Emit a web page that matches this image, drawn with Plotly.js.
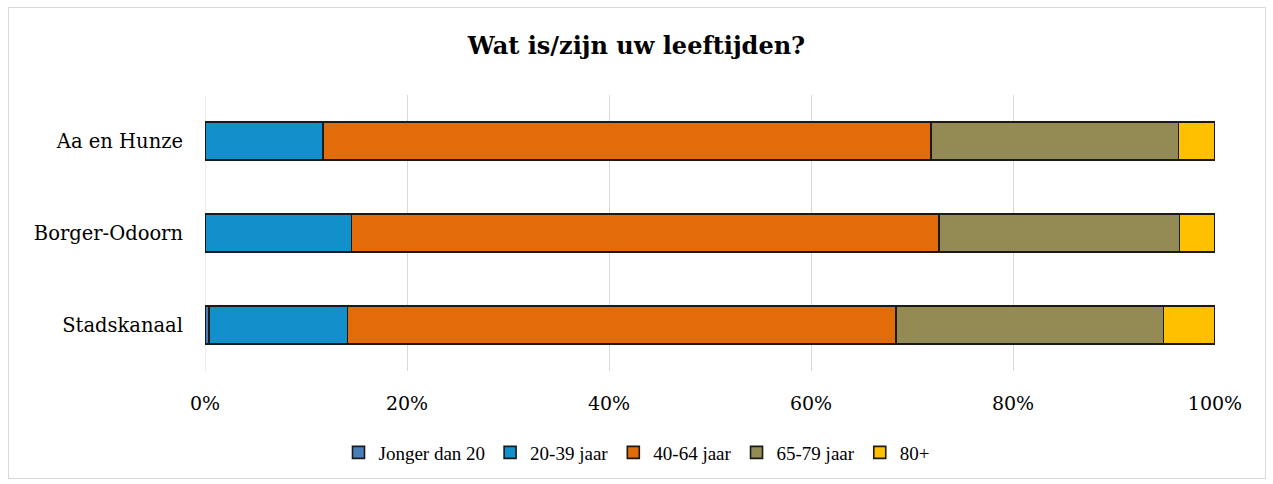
<!DOCTYPE html>
<html>
<head>
<meta charset="utf-8">
<script src="https://cdn.plot.ly/plotly-3.0.1.min.js"></script>
<style>
html,body{margin:0;padding:0;background:#fff;}
#wrap{position:relative;width:1273px;height:484px;}
#chart{width:1273px;height:484px;}
#frame{position:absolute;left:8px;top:7px;width:1256px;height:470px;border:1px solid #d9d9d9;pointer-events:none;}
</style>
</head>
<body>
<div id="wrap"><div id="chart"></div><div id="frame"></div></div>
<script>
const categories = ["Aa en Hunze", "Borger-Odoorn", "Stadskanaal"];
const seriesNames = ["Jonger dan 20", "20-39 jaar", "40-64 jaar", "65-79 jaar", "80+"];
const jongerDan20 = [0.0, 0.0, 0.4];
const jaar20_39 = [11.7, 14.5, 13.7];
const jaar40_64 = [60.2, 58.2, 54.3];
const jaar65_79 = [24.5, 23.8, 26.5];
const plus80 = [3.6, 3.5, 5.1];
const tickVals = [0, 20, 40, 60, 80, 100];
const tickText = ["0%", "20%", "40%", "60%", "80%", "100%"];

const seriesValues = [jongerDan20, jaar20_39, jaar40_64, jaar65_79, plus80];
const colors = ["#4A7EBB", "#1190CB", "#E36C0A", "#948A54", "#FFC000"];

const traces = seriesValues.map((vals, i) => ({
  type: "bar",
  orientation: "h",
  name: seriesNames[i],
  y: categories,
  x: vals,
  marker: {color: colors[i], line: {color: "#1a1a1a", width: 1.6}},
  hoverinfo: "x+name"
}));

const serif = "DejaVu Serif, Liberation Serif, serif";
const legendSerif = "Liberation Serif, DejaVu Serif, serif";
const layout = {
  width: 1273, height: 484,
  paper_bgcolor: "#ffffff", plot_bgcolor: "#ffffff",
  barmode: "stack",
  bargap: 0.59,
  margin: {l: 205, r: 58, t: 95, b: 113},
  title: {text: "<b>Wat is/zijn uw leeftijden?</b>", font: {family: serif, size: 24, color: "#000"},
          x: 0.5, xanchor: "center", y: 0.905, yanchor: "middle", yref: "container"},
  xaxis: {range: [0, 100], tickvals: tickVals, ticktext: tickText, showgrid: true,
          gridcolor: "#d9d9d9", gridwidth: 1, zeroline: false, showline: false,
          ticks: "", ticklabelstandoff: 19, tickfont: {family: serif, size: 19, color: "#000"}},
  yaxis: {autorange: "reversed", type: "category", showgrid: false, zeroline: false,
          showline: false, ticks: "", ticklabelstandoff: 21,
          tickfont: {family: serif, size: 19.5, color: "#000"}},
  shapes: [{type: "line", xref: "x", yref: "paper", x0: 0, x1: 0, y0: 0, y1: 1,
            line: {color: "#d9d9d9", width: 1}, layer: "below"}],
  legend: {orientation: "h", x: 0.5, xanchor: "center", xref: "container", y: 0.065, yanchor: "middle", yref: "container",
           font: {family: legendSerif, size: 19, color: "#000"}, traceorder: "normal",
           itemwidth: 30, tracegroupgap: 0},
  showlegend: true
};

Plotly.newPlot("chart", traces, layout, {displayModeBar: false, staticPlot: true});
</script>
</body>
</html>
